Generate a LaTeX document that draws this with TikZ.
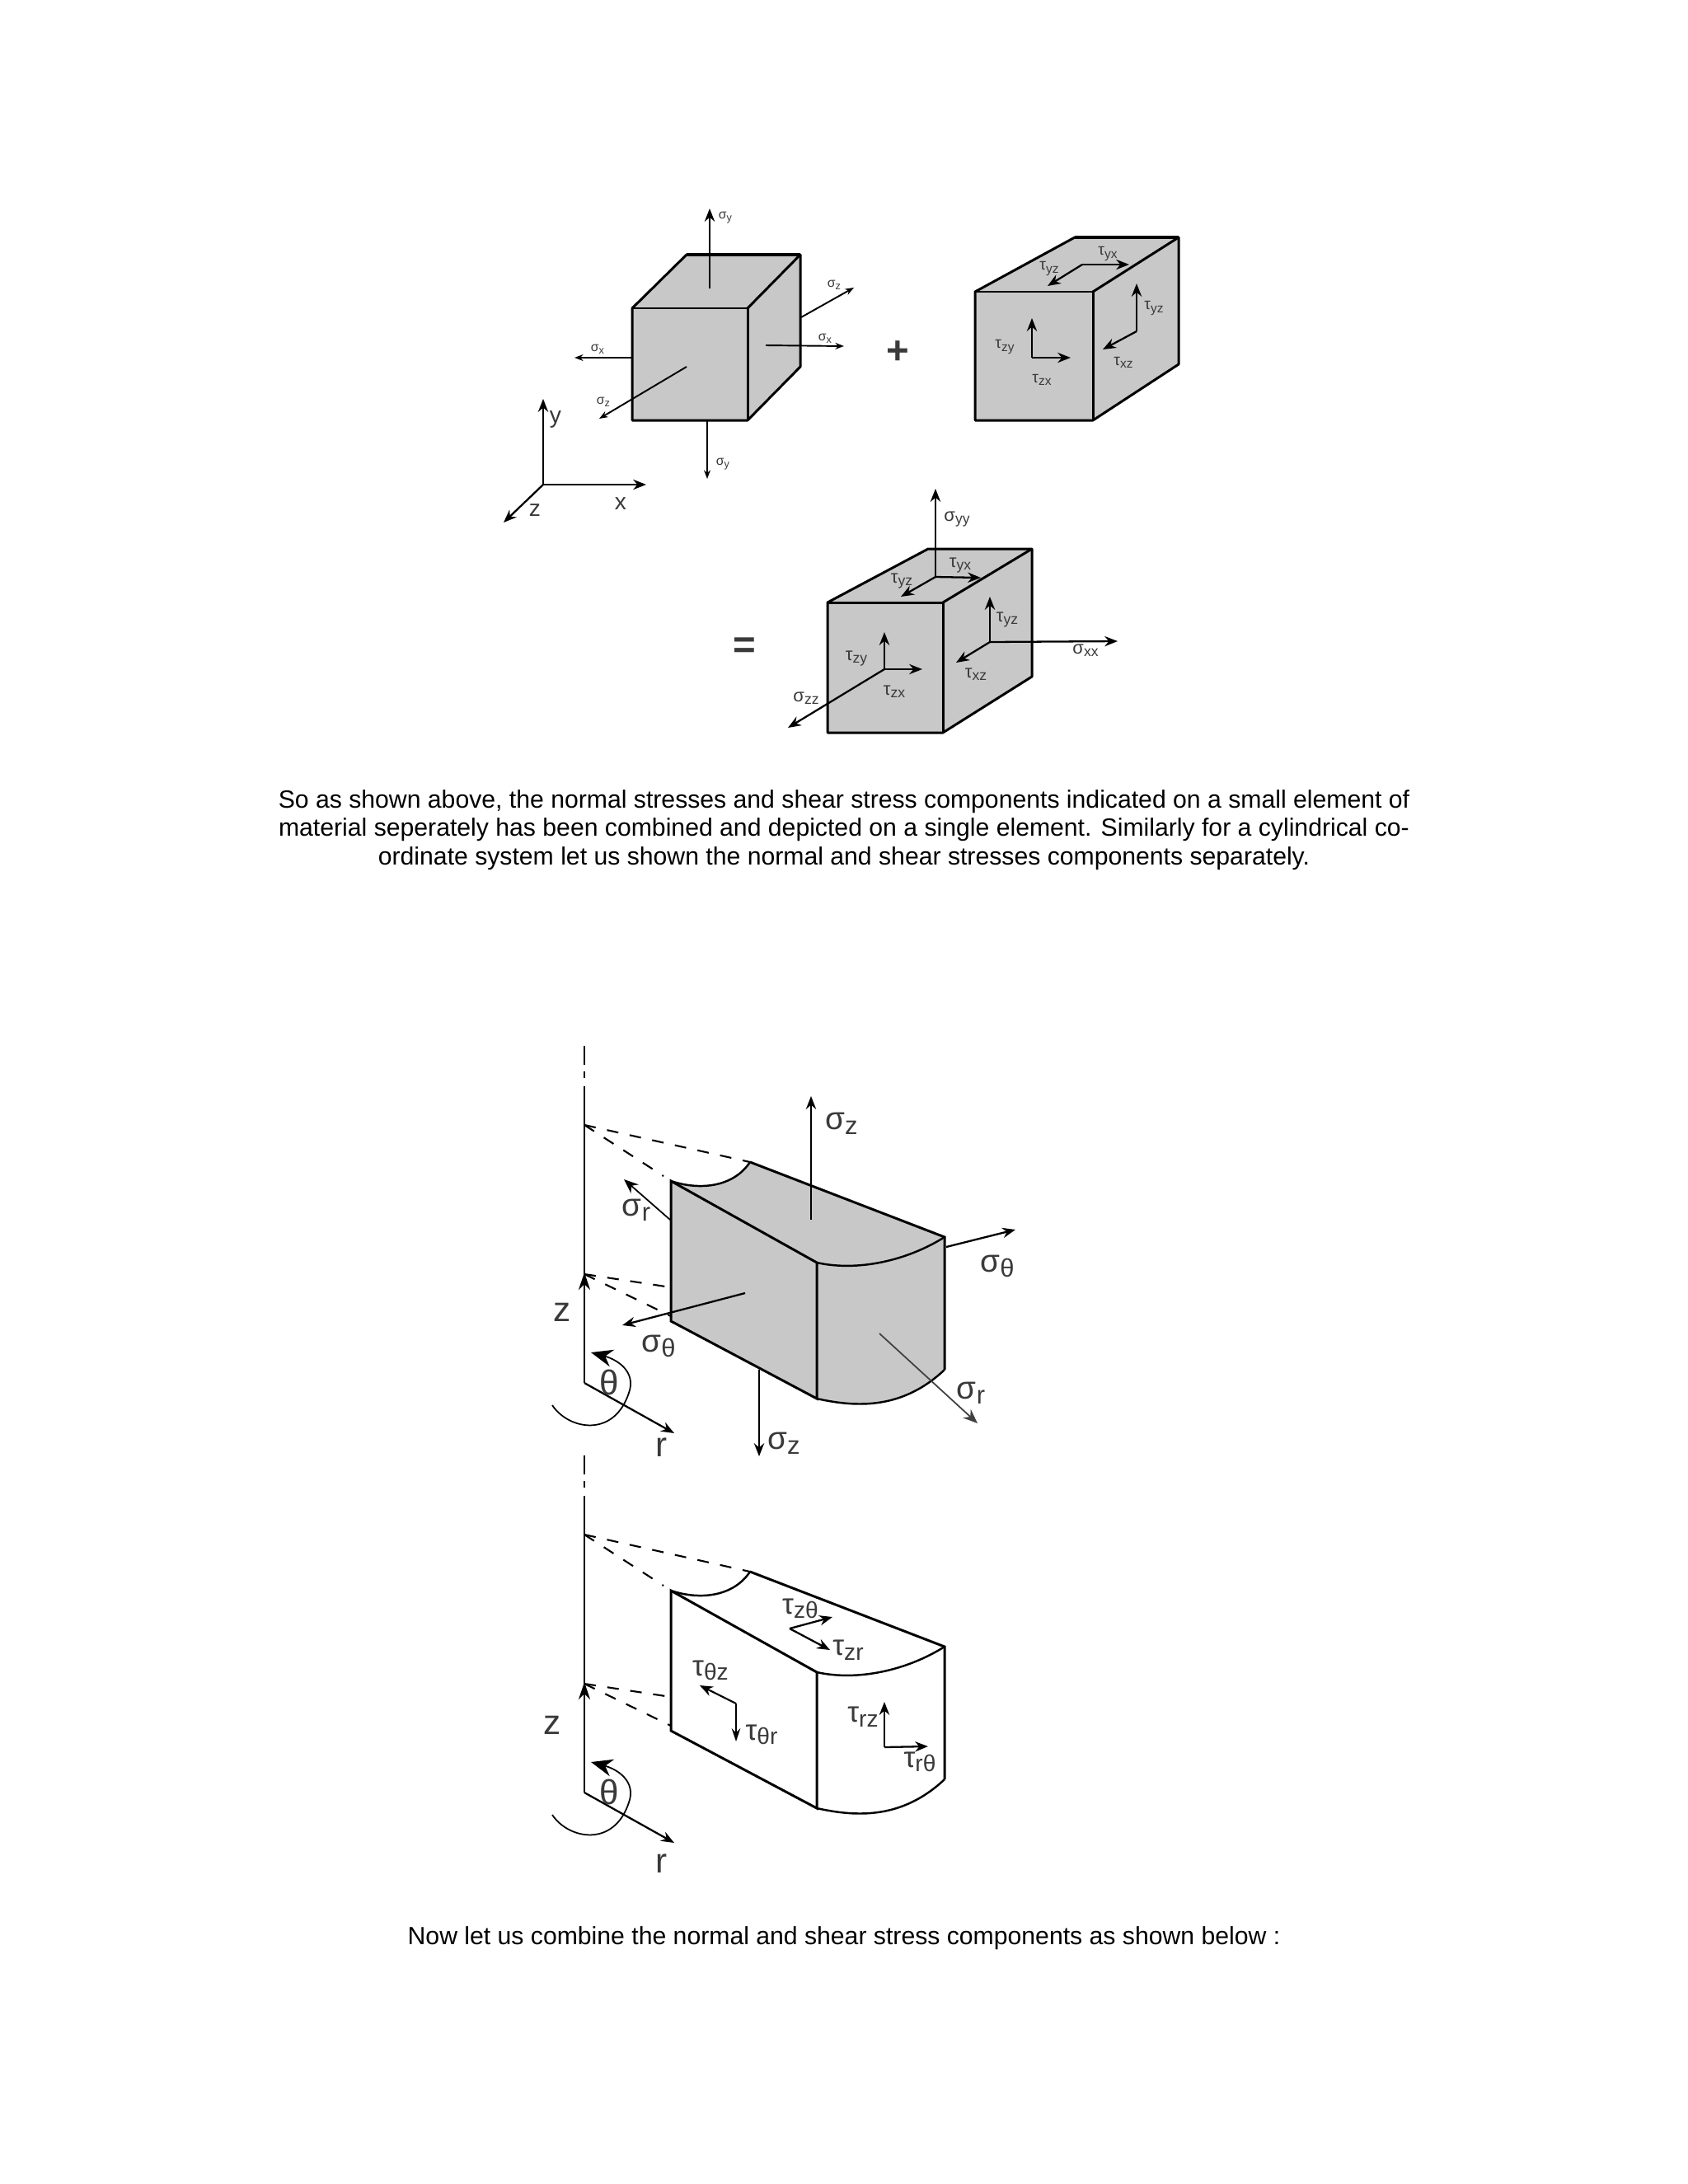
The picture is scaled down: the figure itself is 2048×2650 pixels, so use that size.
\documentclass[tikz,border=0pt]{standalone}
\usepackage{fontspec}
\usepackage{graphicx}
\setmainfont{Liberation Sans}
\usetikzlibrary{arrows.meta}
\newcommand\sbs[1]{\raisebox{-0.3ex}{\scalebox{.8}{#1}}}
\newcommand\cylfig[2]{%
  % #1 fill, #2 name prefix
  \path[fill=#1] (814,1433) .. controls (850,1445) and (890,1440) .. (910,1410) -- (1146,1501) -- (1146,1662)
    .. controls (1095,1710) and (1040,1708) .. (991,1697) -- (814,1603) -- cycle;
  \draw[axl] (709,1269) -- (709,1292);
  \draw[axl] (709,1300) -- (709,1308);
  \draw[axl] (709,1318) -- (709,1678);
  \draw[thn,-{Stealth[length=12pt,width=8pt]}] (709,1600) -- (709,1544);
  \coordinate (#2o) at (709,1678);
  \coordinate (#2r) at (818,1739);
  \draw[arr] (#2o) -- (#2r);
  \draw[dsh] (709,1365) -- (910,1410);
  \draw[dsh] (709,1365) -- (805,1427);
  \draw[dsh] (709,1546) -- (814,1562);
  \draw[dsh] (709,1546) -- (814,1597);
  \draw[edge,line width=1.4pt] (814,1433) .. controls (850,1445) and (890,1440) .. (910,1410);
  \draw[edge,line width=1.4pt] (991,1532) .. controls (1040,1543) and (1100,1530) .. (1146,1501);
  \draw[edge,line width=1.4pt] (991,1697) .. controls (1040,1708) and (1095,1710) .. (1146,1662);
  \draw[edge] (814,1433) -- (991,1532) -- (991,1697) -- (814,1603) -- cycle;
  \draw[edge] (910,1410) -- (1146,1501) -- (1146,1662);
  \draw[thn,-{Stealth[length=15pt,width=12pt]}] (670,1705) .. controls (690,1735) and (745,1745) .. (763,1690)
     .. controls (772,1665) and (750,1650) .. (717,1641);
  \node[lbb] (#2th) at (739,1677) {θ};
}
\begin{document}
\begin{tikzpicture}[x=0.02cm,y=-0.02cm,
  edge/.style={line width=1.7pt,line join=miter,draw=black},
  face/.style={fill=boxgray,draw=black,line width=1.7pt,line join=round},
  thn/.style={line width=1pt,draw=black},
  axl/.style={line width=1.3pt,draw=black},
  dsh/.style={line width=1.2pt,draw=black,dash pattern=on 8pt off 8pt},
  arr/.style={line width=1.3pt,draw=black,-{Stealth[length=9pt,width=7pt]}},
  sarr/.style={line width=1.1pt,draw=black,-{Stealth[length=6pt,width=4.5pt]}},
  lsm/.style={font=\fontsize{9}{10}\selectfont,text=txtgray,inner sep=0pt},
  lmd/.style={font=\fontsize{12.5}{14}\selectfont,text=txtgray,inner sep=0pt},
  lax/.style={font=\fontsize{16}{18}\selectfont,text=txtgray,inner sep=0pt},
  lbg/.style={font=\fontsize{22}{24}\selectfont,text=txtgray,inner sep=0pt},
  lbb/.style={font=\fontsize{24}{26}\selectfont,text=txtgray,inner sep=0pt},
  para/.style={font=\fontsize{17.18}{20}\selectfont,text=black,inner sep=0pt},
  sign/.style={font=\bfseries\fontsize{27}{29}\selectfont,text=txtgray,inner sep=0pt},
]
\definecolor{boxgray}{HTML}{C8C8C8}
\definecolor{txtgray}{HTML}{3A3A3A}
\useasboundingbox (0,0) rectangle (2048,2650);
\fill[white] (0,0) rectangle (2048,2650);

%% box 1
\path[face] (767,374) -- (833,309) -- (971,309) -- (971,445) -- (907,510) -- (767,510) -- cycle;
\draw[edge] (767,374) -- (907,374) -- (907,510);
\draw[edge] (907,374) -- (971,309);
\draw[edge,line width=2.2pt] (833,309) -- (971,309);
\draw[arr] (861,350) -- (861,253);
\draw[sarr] (858,510) -- (858,581);
\draw[sarr] (972,385) -- (1036,349);
\draw[sarr] (929,419) -- (1024,420);
\draw[sarr] (767,434) -- (697,434);
\draw[sarr] (833,445) -- (727,508);
\node[lsm] (s1a) at (880,264) {σ\sbs{y}};
\node[lsm] (s1b) at (877,563) {σ\sbs{y}};
\node[lsm] (s1c) at (1012,346) {σ\sbs{z}};
\node[lsm] (s1d) at (1001,411) {σ\sbs{x}};
\node[lsm] (s1e) at (725,424) {σ\sbs{x}};
\node[lsm] (s1f) at (732,488) {σ\sbs{z}};
\coordinate (ax) at (659,588);
\coordinate (axy) at (659,484);
\coordinate (axx) at (784,588);
\coordinate (axz) at (611,634);
\draw[arr] (ax) -- (axy);
\draw[arr] (ax) -- (axx);
\draw[arr] (ax) -- (axz);
\node[lax] (ly) at (674,509) {y};
\node[lax] (lx) at (753,611) {x};
\node[lax] (lz) at (649,619) {z};
\node[sign] (plus) at (1089,428) {+};

%% box 2
\path[face] (1183,354) -- (1304,288) -- (1430,288) -- (1430,442) -- (1326,510) -- (1183,510) -- cycle;
\draw[edge] (1183,354) -- (1326,354) -- (1326,510);
\draw[edge] (1326,354) -- (1430,288);
\draw[edge,line width=2.2pt] (1304,288) -- (1430,288);
\coordinate (b2a) at (1252,434);
\draw[arr] (b2a) -- (1252,386);
\draw[arr] (b2a) -- (1299,434);
\coordinate (b2b) at (1379,402);
\draw[arr] (b2b) -- (1379,344);
\draw[arr] (b2b) -- (1338,424);
\coordinate (b2c) at (1313,321);
\draw[arr] (b2c) -- (1370,321);
\draw[arr] (b2c) -- (1271,347);
\node[lsm,font=\fontsize{11}{12}\selectfont] (t2a) at (1219,421) {τ\sbs{zy}};
\node[lsm,font=\fontsize{11}{12}\selectfont] (t2b) at (1264,461) {τ\sbs{zx}};
\node[lsm,font=\fontsize{11}{12}\selectfont] (t2c) at (1400,374) {τ\sbs{yz}};
\node[lsm,font=\fontsize{11}{12}\selectfont] (t2d) at (1363,440) {τ\sbs{xz}};
\node[lsm,font=\fontsize{11}{12}\selectfont] (t2e) at (1344,308) {τ\sbs{yx}};
\node[lsm,font=\fontsize{11}{12}\selectfont] (t2f) at (1273,326) {τ\sbs{yz}};

%% box 3
\path[face] (1004,731) -- (1126,666) -- (1252,666) -- (1252,821) -- (1144,889) -- (1004,889) -- cycle;
\draw[edge] (1004,731) -- (1144,731) -- (1144,889);
\draw[edge] (1144,731) -- (1252,666);
\coordinate (b3t) at (1135,700);
\draw[arr] (b3t) -- (1135,593);
\draw[arr] (b3t) -- (1190,701);
\draw[arr] (b3t) -- (1093,724);
\coordinate (b3r) at (1201,779);
\draw[arr] (b3r) -- (1201,724);
\draw[arr] (b3r) -- (1356,778);
\draw[arr] (b3r) -- (1160,804);
\coordinate (b3f) at (1073,812);
\draw[arr] (b3f) -- (1073,767);
\draw[arr] (b3f) -- (1119,812);
\draw[arr] (b3f) -- (956,883);
\node[lmd] (t3a) at (1161,630) {σ\sbs{yy}};
\node[lmd] (t3b) at (1165,686) {τ\sbs{yx}};
\node[lmd] (t3c) at (1094,705) {τ\sbs{yz}};
\node[lmd] (t3d) at (1222,752) {τ\sbs{yz}};
\node[lmd] (t3e) at (1317,789) {σ\sbs{xx}};
\node[lmd] (t3f) at (1184,818) {τ\sbs{xz}};
\node[lmd] (t3g) at (1039,799) {τ\sbs{zy}};
\node[lmd] (t3h) at (1085,839) {τ\sbs{zx}};
\node[lmd] (t3i) at (978,847) {σ\sbs{zz}};
\node[sign] (eq) at (903,786) {=};

%% paragraph
\node[para] (p1) at (1024,973) {So as shown above, the normal stresses and shear stress components indicated on a small element of};
\node[para] (p2) at (1024,1007) {material seperately has been combined and depicted on a single element. Similarly for a cylindrical co-};
\node[para] (p3) at (1024,1042) {ordinate system let us shown the normal and shear stresses components separately.};
\node[para] (p4) at (1024,2352) {Now let us combine the normal and shear stress components as shown below :};

%% cylinder 1
\cylfig{boxgray}{ca}
\node[lbb] (caz) at (682,1592) {z};
\node[lbb] (car) at (803,1756) {r};
\draw[arr] (984,1480) -- (984,1330);
\draw[arr] (921,1662) -- (921,1767);
\draw[thn,-{Stealth[length=10pt,width=8pt]}] (813,1480) -- (757,1431);
\draw[arr] (1148,1513) -- (1232,1492);
\draw[arr] (904,1569) -- (755,1608);
\draw[thn,draw=black!75,-{Stealth[length=10pt,width=8pt]}] (1067,1618) -- (1186,1727);
\node[lbg] (ca1) at (1021,1363) {σ\sbs{z}};
\node[lbg] (ca2) at (951,1751) {σ\sbs{z}};
\node[lbg] (ca3) at (772,1468) {σ\sbs{r}};
\node[lbg] (ca4) at (1210,1536) {σ\sbs{θ}};
\node[lbg] (ca5) at (799,1633) {σ\sbs{θ}};
\node[lbg] (ca6) at (1178,1690) {σ\sbs{r}};

%% cylinder 2
\begin{scope}[shift={(0,497)}]
\cylfig{white}{cb}
\end{scope}
\node[lbb] (cbz) at (670,2093) {z};
\node[lbb] (cbr) at (803,2261) {r};
\coordinate (c2a) at (958,1976);
\draw[arr] (c2a) -- (1010,1962);
\draw[arr] (c2a) -- (1007,2002);
\coordinate (c2b) at (893,2067);
\draw[thn,line width=1.2pt,-{Stealth[length=9pt,width=7pt]}] (c2b) -- (849,2045);
\draw[thn,line width=1.2pt,-{Stealth[length=9pt,width=6pt]}] (c2b) -- (893,2113);
\coordinate (c2c) at (1073,2120);
\draw[arr] (c2c) -- (1073,2065);
\draw[arr] (c2c) -- (1126,2119);
\node[lbg,font=\fontsize{20}{22}\selectfont] (cb1) at (971,1952) {τ\sbs{zθ}};
\node[lbg,font=\fontsize{20}{22}\selectfont] (cb2) at (1029,2002) {τ\sbs{zr}};
\node[lbg,font=\fontsize{20}{22}\selectfont] (cb3) at (862,2027) {τ\sbs{θz}};
\node[lbg,font=\fontsize{20}{22}\selectfont] (cb4) at (924,2105) {τ\sbs{θr}};
\node[lbg,font=\fontsize{20}{22}\selectfont] (cb5) at (1047,2083) {τ\sbs{rz}};
\node[lbg,font=\fontsize{20}{22}\selectfont] (cb6) at (1116,2138) {τ\sbs{rθ}};
\end{tikzpicture}
\end{document}
